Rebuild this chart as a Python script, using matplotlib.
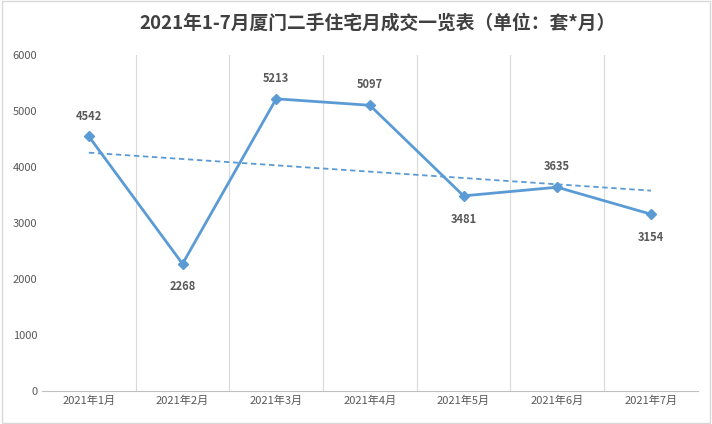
import matplotlib.pyplot as plt
import numpy as np

plt.rcParams['font.family'] = ['Noto Sans CJK SC', 'DejaVu Sans']

months = ['2021年1月', '2021年2月', '2021年3月', '2021年4月', '2021年5月', '2021年6月', '2021年7月']
deals = [4542, 2268, 5213, 5097, 3481, 3635, 3154]
label_above = [True, False, True, True, False, True, False]

color = '#5b9bd5'
fig = plt.figure(figsize=(7.12, 4.24), dpi=100)
ax = fig.add_axes([0.059, 0.078, 0.921, 0.793])

x = np.arange(len(months))
ax.plot(x, deals, color=color, lw=2, marker='D', ms=5)

# linear trendline
k, b = np.polyfit(x, deals, 1)
ax.plot(x, k * x + b, color=color, lw=1.3, ls=(0, (3, 2)))

for xi, v, up in zip(x, deals, label_above):
    ax.annotate(str(v), (xi, v), xytext=(0, 10 if up else -12), textcoords='offset points',
                ha='center', va='bottom' if up else 'top', fontsize=8, color='#595959',
                fontweight='bold')

ax.set_xlim(-0.5, len(months) - 0.5)
ax.set_ylim(0, 6000)
ax.set_yticks(range(0, 6001, 1000))
ax.set_xticks(x)
ax.set_xticklabels(months)
ax.set_xticks(np.arange(0.5, len(months) - 1, 1), minor=True)
ax.grid(axis='x', which='minor', color='#d9d9d9', lw=0.8)
ax.tick_params(which='both', length=0, labelsize=8, colors='#595959')
for s in ['top', 'right', 'left']:
    ax.spines[s].set_visible(False)
ax.spines['bottom'].set_color('#bfbfbf')

fig.text(0.53, 0.945, '2021年1-7月厦门二手住宅月成交一览表（单位：套*月）', ha='center', va='center',
         fontsize=13.5, fontweight='bold', color='#404040')
fig.patches.append(plt.Rectangle((0.003, 0.003), 0.994, 0.994, transform=fig.transFigure,
                                 fill=False, ec='#d9d9d9', lw=1))

fig.savefig('out.png', dpi=100)
